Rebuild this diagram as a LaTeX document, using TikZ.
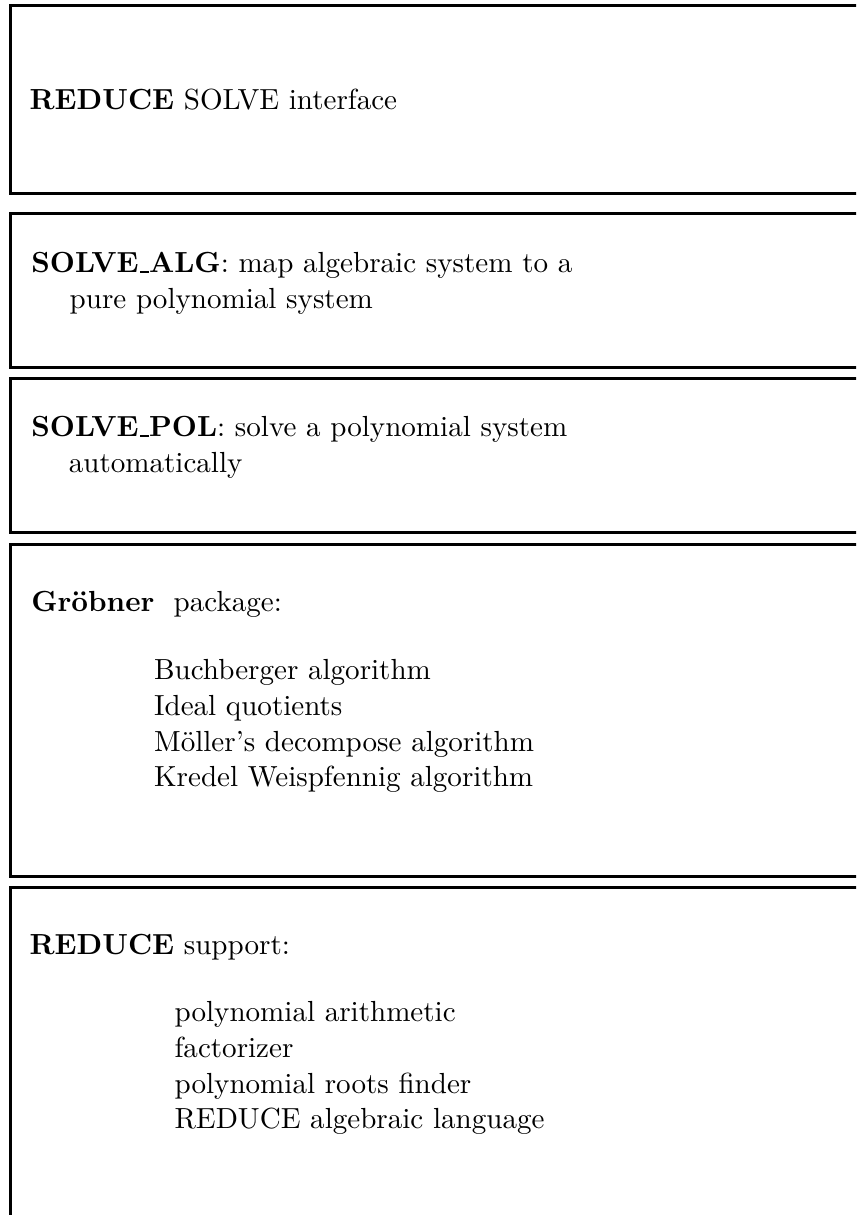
\documentclass[tikz,border=0pt]{standalone}
\usepackage{tikz}

% narrow underscore, as in the old OT1 fonts
\newcommand{\usc}{\leavevmode\kern.06em\vbox{\hrule height .6pt width .3em}}

\begin{document}
\begin{tikzpicture}[line width=1pt, txt/.style={anchor=base west,inner sep=0pt,font=\fontsize{9.7pt}{12pt}\selectfont}]

\clip (0, 0) rectangle (10.04, -14.25);

\draw (0.12, -0.07) rectangle (10.5, -2.27);
\draw (0.12, -2.50) rectangle (10.5, -4.31);
\draw (0.12, -4.44) rectangle (10.5, -6.25);
\draw (0.12, -6.39) rectangle (10.5, -10.28);
\draw (0.12, -10.41) rectangle (10.5, -14.6);

\node[txt](iface) at (0.33, -1.29) {\textbf{REDUCE} SOLVE interface};

\node[txt](alg1) at (0.35, -3.20) {\textbf{SOLVE\usc ALG}: map algebraic system to a};
\node[txt](alg2) at (0.80, -3.62) {pure polynomial system};

\node[txt](pol1) at (0.35, -5.12) {\textbf{SOLVE\usc POL}: solve a polynomial system};
\node[txt](pol2) at (0.79, -5.54) {automatically};

\node[txt](gb) at (0.35, -7.17) {\textbf{Gr\"obner}\ \ package:};
\node[txt](gb1) at (1.79, -7.97) {Buchberger algorithm};
\node[txt](gb2) at (1.79, -8.39) {Ideal quotients};
\node[txt](gb3) at (1.79, -8.81) {M\"oller's decompose algorithm};
\node[txt](gb4) at (1.79, -9.23) {Kredel Weispfennig algorithm};

\node[txt](sup) at (0.33, -11.19) {\textbf{REDUCE} support:};
\node[txt](sup1) at (2.03, -11.98) {polynomial arithmetic};
\node[txt](sup2) at (2.03, -12.40) {factorizer};
\node[txt](sup3) at (2.03, -12.82) {polynomial roots finder};
\node[txt](sup4) at (2.03, -13.24) {REDUCE algebraic language};

\end{tikzpicture}
\end{document}
